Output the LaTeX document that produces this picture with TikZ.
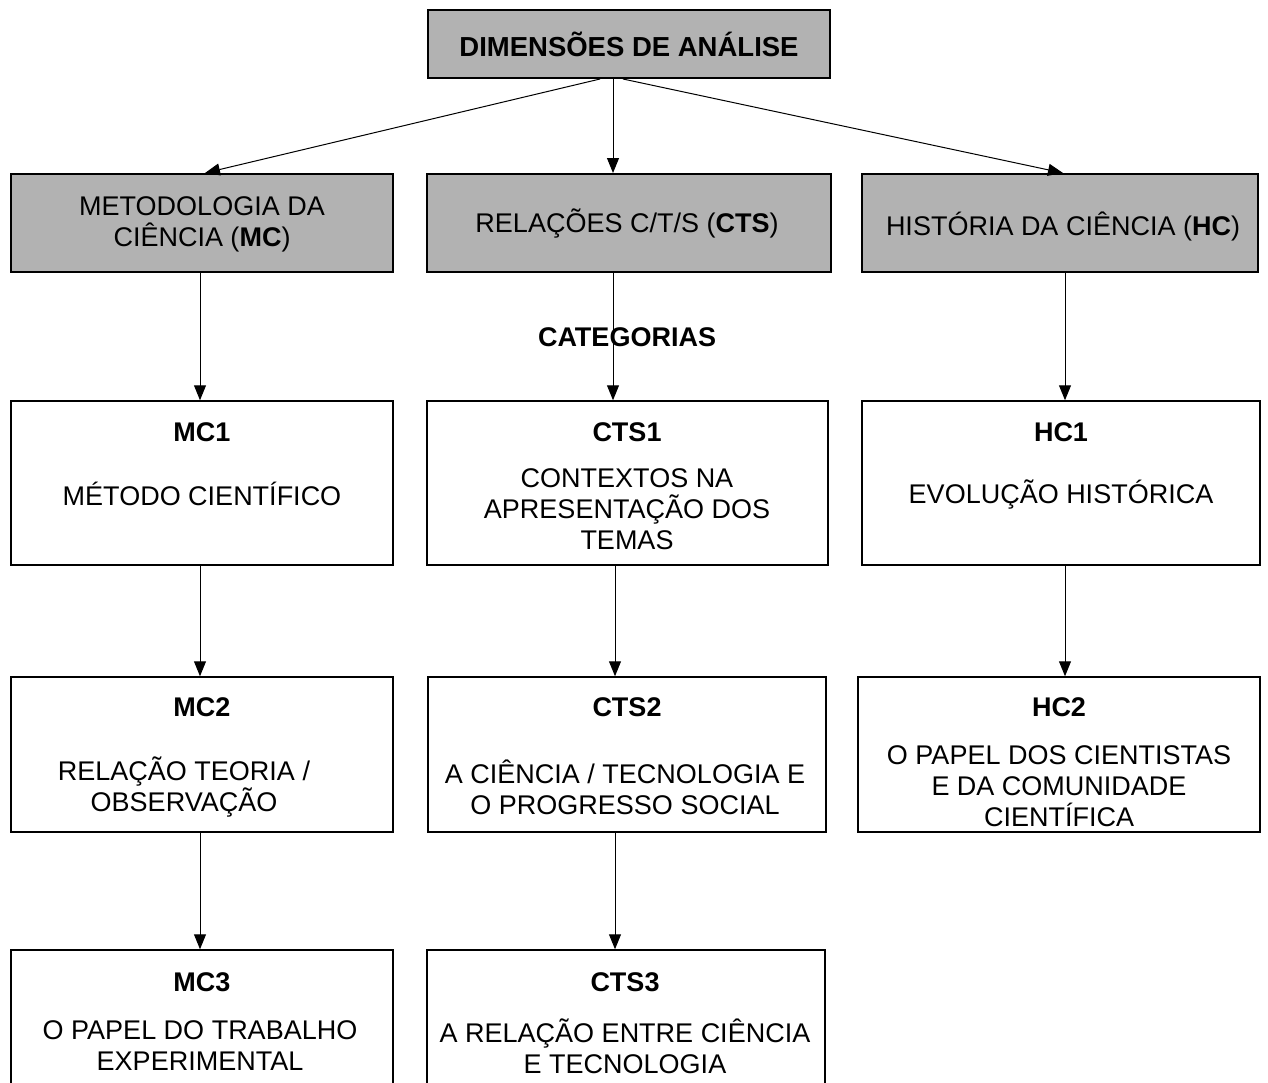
\documentclass[tikz,border=0pt]{standalone}
\usepackage{fontspec}
\setmainfont{Liberation Sans}
\usetikzlibrary{arrows.meta}
\begin{document}
\begin{tikzpicture}[x=1pt,y=-1pt,
  txt/.style={font=\fontsize{27}{31}\selectfont, align=center, inner sep=0pt},
  graybox/.style={draw, line width=2pt, fill=black!30, inner sep=0pt},
  whitebox/.style={draw, line width=1.5pt, fill=white, inner sep=0pt},
  ttl/.style={txt, font=\fontsize{27}{31}\selectfont\bfseries},
  arr/.style={line width=1pt, -{Triangle[length=15pt,width=12pt]}}]
\useasboundingbox (0,0) rectangle (1268,1082);
\clip (0,0) rectangle (1268,1082);
% top box
\node[graybox, minimum width=402pt, minimum height=68pt] (top) at (629,44) {};
\node[ttl, font=\fontsize{27.5}{31}\selectfont\bfseries] (toptxt) at (629,44) {DIMENSÕES DE ANÁLISE};
% gray dimension boxes
\node[graybox, minimum width=382pt, minimum height=98pt] (mcg) at (202,223) {};
\node[txt] (mcgt) at (202,224) {METODOLOGIA DA\\CIÊNCIA (\textbf{MC})};
\node[graybox, minimum width=404pt, minimum height=98pt] (ctsg) at (629,223) {};
\node[txt] (ctsgt) at (627,224) {RELAÇÕES C/T/S (\textbf{CTS})};
\node[graybox, minimum width=396pt, minimum height=98pt] (hcg) at (1060,223) {};
\node[txt] (hcgt) at (1063,226) {HISTÓRIA DA CIÊNCIA (\textbf{HC})};
% row 1
\node[whitebox, minimum width=382pt, minimum height=164pt] (mc1) at (202,483) {};
\node[ttl] (mc1t) at (202,432) {MC1};
\node[txt] (mc1d) at (202,494) {MÉTODO CIENTÍFICO};
\node[whitebox, minimum width=401pt, minimum height=164pt] (cts1) at (627.5,483) {};
\node[ttl] (cts1t) at (627,432) {CTS1};
\node[txt] (cts1d) at (627,509) {CONTEXTOS NA\\APRESENTAÇÃO DOS\\TEMAS};
\node[whitebox, minimum width=398pt, minimum height=164pt] (hc1) at (1061,483) {};
\node[ttl] (hc1t) at (1061,432) {HC1};
\node[txt] (hc1d) at (1061,494) {EVOLUÇÃO HISTÓRICA};
% row 2
\node[whitebox, minimum width=382pt, minimum height=155pt] (mc2) at (202,754.5) {};
\node[ttl] (mc2t) at (202,707) {MC2};
\node[txt] (mc2d) at (184,787) {RELAÇÃO TEORIA /\\OBSERVAÇÃO};
\node[whitebox, minimum width=398pt, minimum height=155pt] (cts2) at (627,754.5) {};
\node[ttl] (cts2t) at (627,707) {CTS2};
\node[txt] (cts2d) at (625,787) {A CIÊNCIA / TECNOLOGIA E\\O PROGRESSO SOCIAL};
\node[whitebox, minimum width=402pt, minimum height=155pt] (hc2) at (1059,754.5) {};
\node[ttl] (hc2t) at (1059,707) {HC2};
\node[txt] (hc2d) at (1059,786) {O PAPEL DOS CIENTISTAS\\E DA COMUNIDADE\\CIENTÍFICA};
% row 3
\node[whitebox, minimum width=382pt, minimum height=160pt] (mc3) at (202,1030) {};
\node[ttl] (mc3t) at (202,982) {MC3};
\node[txt] (mc3d) at (200,1046) {O PAPEL DO TRABALHO\\EXPERIMENTAL};
\node[whitebox, minimum width=398pt, minimum height=160pt] (cts3) at (626,1030) {};
\node[ttl] (cts3t) at (625,982) {CTS3};
\node[txt] (cts3d) at (625,1046) {A RELAÇÃO ENTRE CIÊNCIA\\E TECNOLOGIA};
% connectors from top
\draw[arr] ([xshift=-29pt]top.south) -- ([xshift=3pt]mcg.north);
\draw[arr] ([xshift=-16pt]top.south) -- ([xshift=-16pt]ctsg.north);
\draw[arr] ([xshift=-6pt]top.south) -- ([xshift=3pt]hcg.north);
% vertical connectors
\draw[arr] ([xshift=-2pt]mcg.south) -- ([xshift=-2pt]mc1.north);
\draw[arr] ([xshift=-2pt]mc1.south) -- ([xshift=-2pt]mc2.north);
\draw[arr] ([xshift=-2pt]mc2.south) -- ([xshift=-2pt]mc3.north);
\draw[arr] ([xshift=-16pt]ctsg.south) -- ([xshift=-14.5pt]cts1.north);
\draw[arr] ([xshift=-12.5pt]cts1.south) -- ([xshift=-12pt]cts2.north);
\draw[arr] ([xshift=-12pt]cts2.south) -- ([xshift=-11pt]cts3.north);
\draw[arr] ([xshift=5pt]hcg.south) -- ([xshift=5pt]hcg.south |- hc1.north);
\draw[arr] ([xshift=5pt]hcg.south |- hc1.south) -- ([xshift=5pt]hcg.south |- hc2.north);
% label over the middle connector
\node[ttl] (cat) at (627,337) {CATEGORIAS};
\end{tikzpicture}
\end{document}
